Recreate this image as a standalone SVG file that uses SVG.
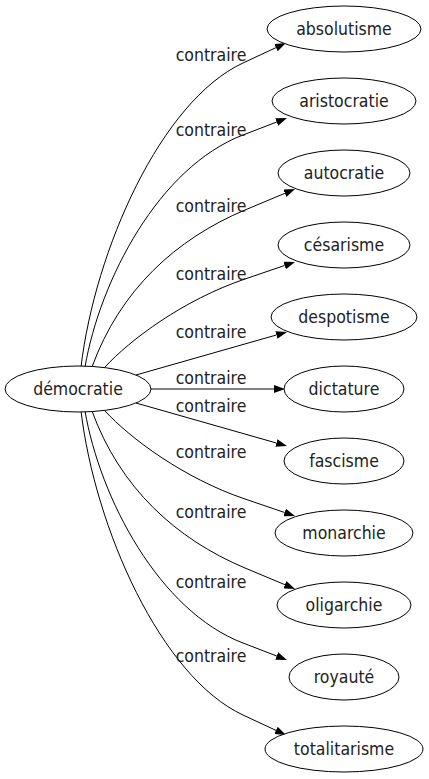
<svg xmlns="http://www.w3.org/2000/svg" width="429" height="779" viewBox="0 0 429 779">
<defs>
<style>
.n ellipse{fill:#fff;stroke:#000;stroke-width:1}
text{font-family:"DejaVu Sans Condensed","DejaVu Sans",sans-serif;font-stretch:condensed;font-size:17.5px;fill:#222;text-anchor:middle}
.e path{fill:none;stroke:#000;stroke-width:1;marker-end:url(#ah)}
</style>
<marker id="ah" markerUnits="userSpaceOnUse" markerWidth="11" markerHeight="8" viewBox="0 0 11 8" refX="0" refY="4" orient="auto">
<path d="M0,0 L11,4 L0,8 z" fill="#000"/>
</marker>
</defs>
<rect width="429" height="779" fill="#fff"/>
<g class="e" id="edges">
<path d="M81,367 C95,250 161,101 243,63 L276,47.6"/>
<path d="M85,367 C100,280 159,167 243,135 L276.7,122"/>
<path d="M92,367 C120,290 176,239 245,210 L284.9,193.3"/>
<path d="M105,367 C130,340 183,300 245,279 L284.6,265.5"/>
<path d="M136,375 L276.4,335"/>
<path d="M151,389 L274,389"/>
<path d="M136,403 L276.4,443"/>
<path d="M105,411 C130,438 183,478 245,499 L284.6,512.5"/>
<path d="M92,411 C120,488 176,539 245,568 L284.9,584.7"/>
<path d="M85,411 C100,498 159,611 243,643 L276.7,656"/>
<path d="M81,411 C95,528 161,677 243,715 L276,730.4"/>
<text x="211" y="61">contraire</text>
<text x="211" y="136">contraire</text>
<text x="211" y="212">contraire</text>
<text x="211" y="280">contraire</text>
<text x="211" y="338">contraire</text>
<text x="211" y="384">contraire</text>
<text x="211" y="412">contraire</text>
<text x="211" y="458">contraire</text>
<text x="211" y="518">contraire</text>
<text x="211" y="588">contraire</text>
<text x="211" y="662">contraire</text>
</g>
<g class="n" id="democratie"><ellipse cx="78" cy="389" rx="73" ry="23"/><text x="78" y="395">démocratie</text></g>
<g class="n" id="absolutisme"><ellipse cx="344" cy="29" rx="77" ry="23"/><text x="344" y="35">absolutisme</text></g>
<g class="n" id="aristocratie"><ellipse cx="344" cy="101" rx="72" ry="23"/><text x="344" y="107">aristocratie</text></g>
<g class="n" id="autocratie"><ellipse cx="344" cy="173" rx="66" ry="23"/><text x="344" y="179">autocratie</text></g>
<g class="n" id="cesarisme"><ellipse cx="344" cy="245" rx="66" ry="23"/><text x="344" y="251">césarisme</text></g>
<g class="n" id="despotisme"><ellipse cx="344" cy="317" rx="73" ry="23"/><text x="344" y="323">despotisme</text></g>
<g class="n" id="dictature"><ellipse cx="344" cy="389" rx="60" ry="23"/><text x="344" y="395">dictature</text></g>
<g class="n" id="fascisme"><ellipse cx="344" cy="461" rx="60" ry="23"/><text x="344" y="467">fascisme</text></g>
<g class="n" id="monarchie"><ellipse cx="344" cy="533" rx="69" ry="23"/><text x="344" y="539">monarchie</text></g>
<g class="n" id="oligarchie"><ellipse cx="344" cy="605" rx="67" ry="23"/><text x="344" y="611">oligarchie</text></g>
<g class="n" id="royaute"><ellipse cx="344" cy="677" rx="55" ry="23"/><text x="344" y="683">royauté</text></g>
<g class="n" id="totalitarisme"><ellipse cx="344" cy="749" rx="79" ry="23"/><text x="344" y="755">totalitarisme</text></g>
</svg>
